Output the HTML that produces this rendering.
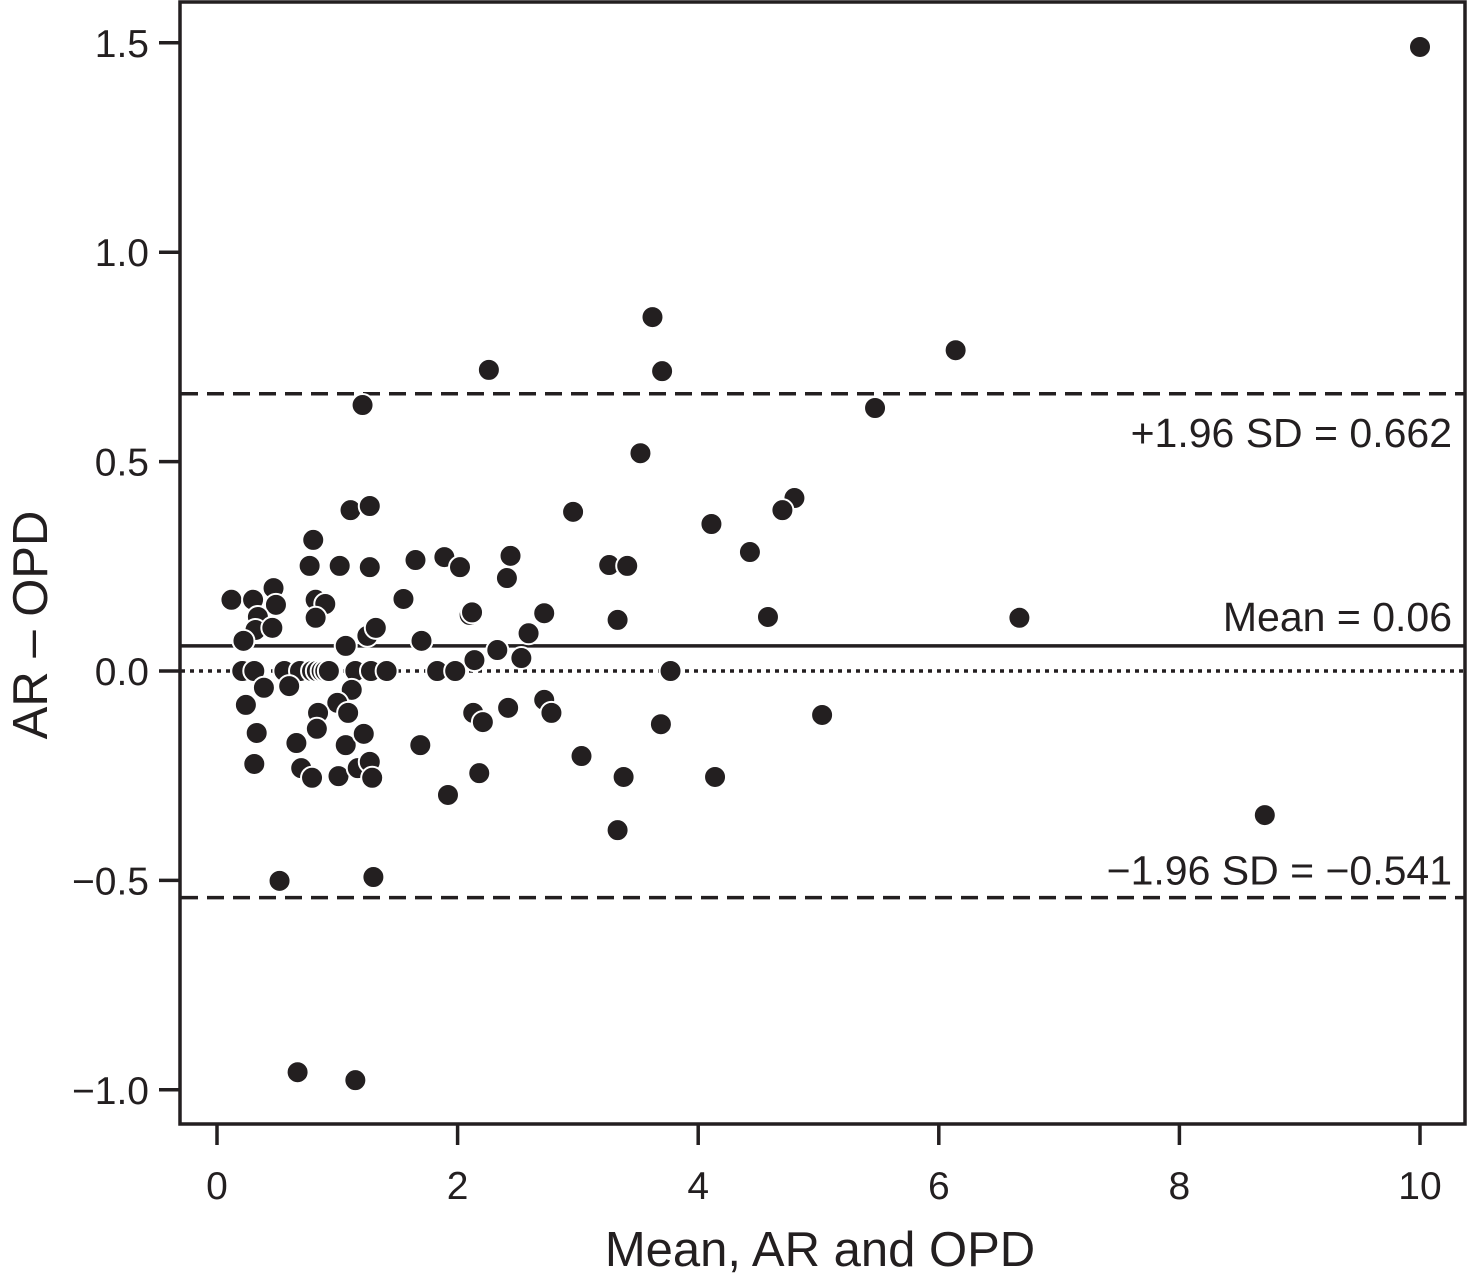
<!DOCTYPE html>
<html><head><meta charset="utf-8"><style>
html,body{margin:0;padding:0;background:#fff;}
svg text{font-family:"Liberation Sans",sans-serif;fill:#231f20;}
</style></head><body>
<svg id="chart" width="1470" height="1276" viewBox="0 0 1470 1276">
<rect x="180" y="2" width="1285" height="1122" fill="none" stroke="#231f20" stroke-width="3.5"/>
<g id="axes"></g>
<g id="lines"></g>
<g id="points"></g>
<text x="0" y="0" font-size="49" text-anchor="middle" transform="translate(47,625) rotate(-90)">AR – OPD</text>
<text x="820" y="1266" font-size="49" text-anchor="middle">Mean, AR and OPD</text>
</svg>
<script>
const xTicks=[0,2,4,6,8,10];
const yTicks=[1.5,1.0,0.5,0.0,-0.5,-1.0];
const yTickLabels=["1.5","1.0","0.5","0.0","\u22120.5","\u22121.0"];
const upperLoA=0.662, meanDiff=0.06, lowerLoA=-0.541;
const upperLabel="+1.96 SD = 0.662", meanLabel="Mean = 0.06", lowerLabel="\u22121.96 SD = \u22120.541";
const xVals=[10.0,3.62,3.70,2.26,6.14,5.47,1.21,3.52,2.96,4.80,4.70,4.11,4.43,1.11,1.27,0.80,0.77,1.02,1.27,1.65,1.89,2.02,2.44,2.41,3.26,3.41,3.33,2.72,4.58,6.67,1.55,0.12,0.30,0.47,0.49,0.82,0.90,0.82,0.34,0.32,0.46,0.22,1.07,1.25,1.32,1.70,2.10,2.12,2.14,2.33,2.59,2.53,
0.21,0.31,0.56,0.69,0.79,0.83,0.87,0.90,0.93,1.15,1.28,1.41,1.83,1.98,3.77,
0.39,0.60,0.24,1.12,1.00,1.09,0.84,2.13,2.21,2.42,2.72,2.78,3.69,5.03,0.33,0.83,0.66,1.07,1.22,1.69,3.03,0.31,0.70,0.79,1.01,1.17,1.27,1.29,2.18,3.38,4.14,1.92,3.33,8.71,1.30,0.52,0.67,1.15];
const yVals=[1.49,0.845,0.716,0.719,0.766,0.628,0.635,0.52,0.38,0.413,0.384,0.351,0.284,0.384,0.394,0.313,0.251,0.251,0.248,0.265,0.272,0.248,0.275,0.222,0.253,0.251,0.122,0.138,0.129,0.127,0.172,0.17,0.17,0.198,0.158,0.17,0.16,0.127,0.129,0.098,0.103,0.072,0.06,0.084,0.103,0.072,0.134,0.14,0.026,0.05,0.09,0.031,
0,0,0,0,0,0,0,0,0,0,0,0,0,0,0,
-0.04,-0.036,-0.081,-0.045,-0.076,-0.1,-0.1,-0.1,-0.122,-0.088,-0.069,-0.1,-0.127,-0.105,-0.148,-0.138,-0.172,-0.177,-0.15,-0.177,-0.203,-0.222,-0.232,-0.255,-0.251,-0.232,-0.217,-0.255,-0.244,-0.253,-0.253,-0.296,-0.38,-0.344,-0.492,-0.501,-0.958,-0.977];
const NS="http://www.w3.org/2000/svg";
const xs=v=>217+v*120.3;
const ys=v=>671-v*418.8;
function mk(tag,attrs,parent,txt){const e=document.createElementNS(NS,tag);for(const k in attrs)e.setAttribute(k,attrs[k]);if(txt!==undefined)e.textContent=txt;parent.appendChild(e);return e;}
const axes=document.getElementById('axes');
xTicks.forEach(t=>{
  const l=mk('line',{x1:xs(t),x2:xs(t),y1:1124,y2:1145,stroke:'#231f20','stroke-width':3.5},axes);
  
  
  const tx=mk('text',{x:xs(t),y:1199,'font-size':39,'text-anchor':'middle'},axes,String(t));
  
  
});
yTicks.forEach((t,i)=>{
  const l=mk('line',{x1:159,x2:180,y1:ys(t),y2:ys(t),stroke:'#231f20','stroke-width':3.5},axes);
  
  
  const tx=mk('text',{x:149,y:ys(t)+14,'font-size':39,'text-anchor':'end'},axes,yTickLabels[i]);
  
  
});
const lines=document.getElementById('lines');
function hl(v,dash,name){const l=mk('line',{x1:181,x2:1464,y1:ys(v),y2:ys(v),stroke:'#231f20','stroke-width':3.5,'stroke-dasharray':dash},lines);
  
  }
hl(upperLoA,'17,9','upper-loa-line');
hl(lowerLoA,'17,9','lower-loa-line');
hl(meanDiff,'none','mean-line');
hl(0,'4,5','zero-line');
function lab(txt,y,name){const t=mk('text',{x:1452,y:y,'font-size':41,'text-anchor':'end'},lines,txt);
  
  }
lab(upperLabel,ys(upperLoA)+53,'upper-loa-label');
lab(meanLabel,ys(meanDiff)-15,'mean-label');
lab(lowerLabel,ys(lowerLoA)-13,'lower-loa-label');
const pts=document.getElementById('points');
xVals.forEach((x,i)=>{
  const c=mk('circle',{cx:xs(x),cy:ys(yVals[i]),r:11,fill:'#231f20',stroke:'#fff','stroke-width':2},pts);
  
  
});
</script>
</body></html>
